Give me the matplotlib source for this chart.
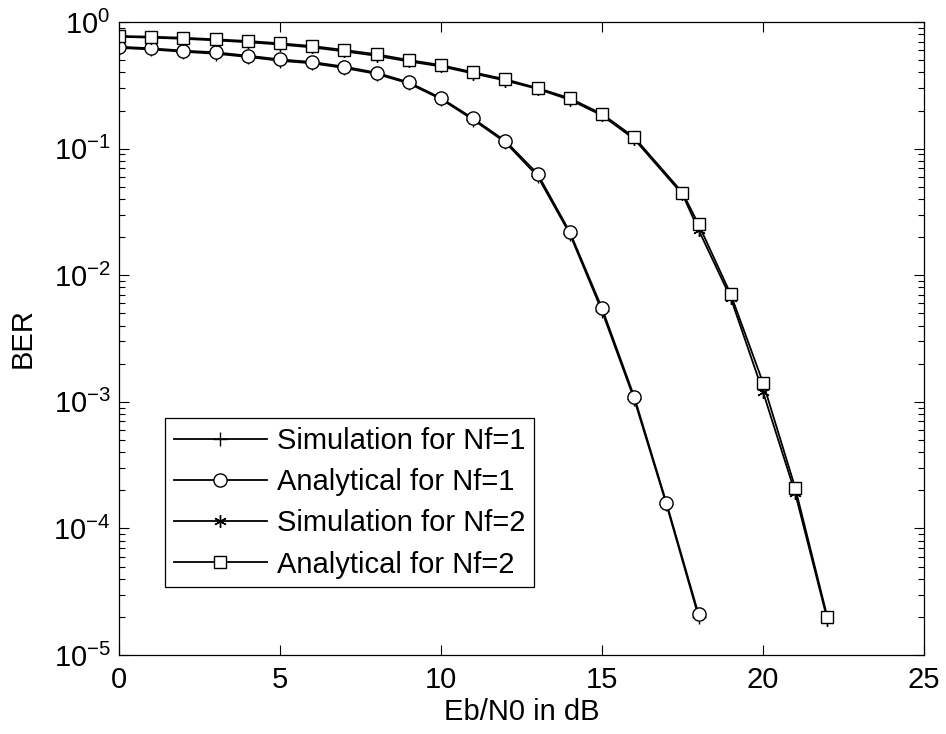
import numpy as np
import matplotlib
matplotlib.use('Agg')
import matplotlib.pyplot as plt
from matplotlib.ticker import LogLocator, NullFormatter

plt.rcParams['font.family'] = ['Liberation Sans', 'DejaVu Sans']
plt.rcParams['mathtext.default'] = 'regular'

# Nf=1 curves (Eb/N0 = 0..18 dB)
ebn0_1 = list(range(0, 19))
ana_1 = [0.638, 0.620, 0.594, 0.576, 0.542, 0.507, 0.483, 0.444, 0.398, 0.334,
         0.251, 0.173, 0.115, 0.0633, 0.022, 0.0055, 0.0011, 1.6e-4, 2.1e-5]
sim_1 = [0.625, 0.607, 0.582, 0.562, 0.530, 0.494, 0.472, 0.433, 0.389, 0.327,
         0.246, 0.169, 0.112, 0.0605, 0.0212, 0.0052, 0.00105, 1.55e-4, 2.0e-5]

# Nf=2 curves (note the 17.5 dB point)
ebn0_2 = list(range(0, 17)) + [17.5, 18, 19, 20, 21, 22]
ana_2 = [0.775, 0.766, 0.751, 0.730, 0.708, 0.679, 0.646, 0.601, 0.556, 0.501,
         0.457, 0.401, 0.353, 0.301, 0.250, 0.188, 0.123, 0.045, 0.0252, 0.00706,
         0.00142, 2.1e-4, 2.0e-5]
sim_2 = [0.765, 0.752, 0.737, 0.716, 0.692, 0.664, 0.630, 0.586, 0.541, 0.488,
         0.446, 0.392, 0.345, 0.296, 0.243, 0.183, 0.119, 0.0435, 0.0228, 0.0066,
         0.00120, 1.9e-4, 1.9e-5]

labels = ['Simulation for Nf=1', 'Analytical for Nf=1',
          'Simulation for Nf=2', 'Analytical for Nf=2']

fs = 21

fig = plt.figure(figsize=(9.46, 7.34), dpi=100)
ax = fig.add_axes([0.1258, 0.1076, 0.8509, 0.8624])

lw = 1.3
ax.semilogy(ebn0_1, sim_1, 'k-', marker='+', ms=10, mew=1.0, lw=lw, label=labels[0])
ax.semilogy(ebn0_1, ana_1, 'k-', marker='o', ms=9.5, mfc='white', mew=1.0, lw=lw, label=labels[1])
ax.semilogy(ebn0_2, sim_2, 'k-', marker=(6, 2, 0), ms=9, mew=1.0, lw=lw, label=labels[2])
ax.semilogy(ebn0_2, ana_2, 'k-', marker='s', ms=9, mfc='white', mew=1.0, lw=lw, label=labels[3])

ax.set_xlim(0, 25)
ax.set_ylim(1e-5, 1)
ax.set_xticks([0, 5, 10, 15, 20, 25])
ax.yaxis.set_major_locator(LogLocator(base=10, numticks=10))
ax.yaxis.set_minor_locator(LogLocator(base=10, subs=np.arange(2, 10), numticks=20))
ax.yaxis.set_minor_formatter(NullFormatter())

ax.tick_params(which='both', direction='in', top=True, right=True, labelsize=fs, width=0.8)
ax.tick_params(which='major', length=7)
ax.tick_params(axis='x', which='major', pad=8)
ax.tick_params(axis='y', which='major', pad=6)
ax.tick_params(which='minor', length=4)
for s in ax.spines.values():
    s.set_linewidth(0.9)

ax.set_xlabel('Eb/N0 in dB', fontsize=fs, labelpad=3)
ax.set_ylabel('BER', fontsize=fs, labelpad=12)

leg = ax.legend(loc='lower left', bbox_to_anchor=(0.057, 0.107), borderaxespad=0,
                fontsize=fs, handlelength=3.2, handletextpad=0.35, labelspacing=0.45,
                fancybox=False, edgecolor='black', framealpha=1, borderpad=0.3)
leg.get_frame().set_linewidth(0.9)

fig.savefig('out.png', dpi=100)
